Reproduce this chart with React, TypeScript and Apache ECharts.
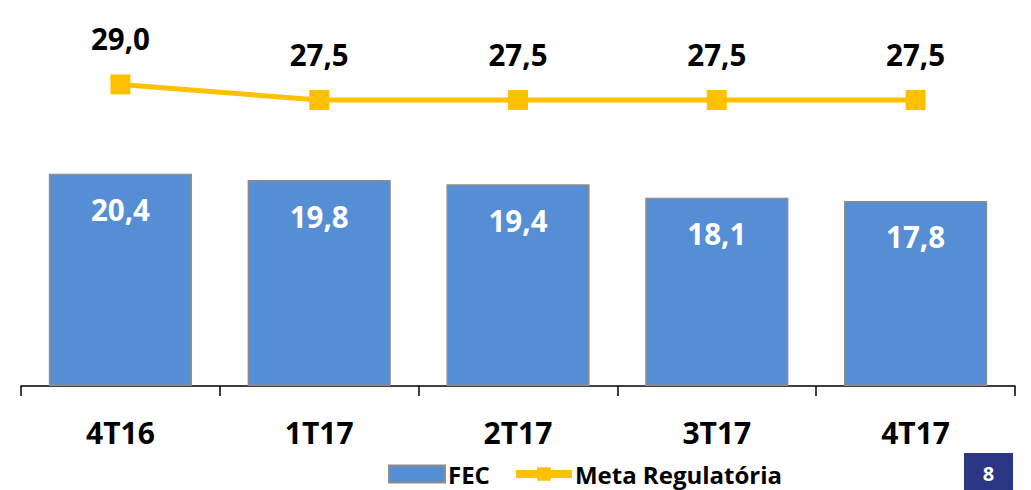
import React, { useEffect, useRef } from "react";
import * as echarts from "echarts";

const categories = ["4T16", "1T17", "2T17", "3T17", "4T17"];
const fecValues = [20.4, 19.8, 19.4, 18.1, 17.8];
const metaValues = [29.0, 27.5, 27.5, 27.5, 27.5];
const pageNumber = "8";

const FONT = "'Open Sans', 'Liberation Sans', sans-serif";
const fmt = (v: number) => v.toFixed(1).replace(".", ",");

export default function App() {
  const ref = useRef<HTMLDivElement>(null);
  useEffect(() => {
    if (!ref.current) return;
    const chart = echarts.init(ref.current, null, { renderer: "svg" });
    chart.setOption({
      animation: false,
      backgroundColor: "#ffffff",
      textStyle: { fontFamily: FONT },
      grid: { left: 21, right: 16, top: 22, bottom: 104, containLabel: false },
      xAxis: {
        type: "category",
        data: categories,
        axisLine: { lineStyle: { color: "#000", width: 1.5 } },
        axisTick: { show: true, length: 10, lineStyle: { color: "#000", width: 1.5 } },
        axisLabel: { color: "#000", fontSize: 30, fontWeight: "bold", margin: 31, fontFamily: FONT },
      },
      yAxis: { type: "value", min: 0, max: 35, show: false, splitLine: { show: false } },
      legend: {
        left: 388,
        top: 462,
        padding: 0,
        itemWidth: 56,
        itemHeight: 17,
        itemGap: 22,
        textStyle: {
          color: "#000",
          fontSize: 24,
          lineHeight: 24,
          fontWeight: "bold",
          fontFamily: FONT,
          padding: [0, 0, 0, -2],
        },
        data: [
          { name: "FEC", icon: "rect" },
          { name: "Meta Regulatória", lineStyle: { width: 8 } },
        ],
      },
      series: [
        {
          name: "FEC",
          type: "bar",
          data: fecValues,
          barCategoryGap: "28%",
          itemStyle: { color: "#558ED5", borderColor: "#8C8C8C", borderWidth: 1.5 },
          label: {
            show: true,
            position: "insideTop",
            distance: 21,
            color: "#fff",
            fontSize: 29.5,
            fontWeight: "bold",
            fontFamily: FONT,
            formatter: (p: any) => fmt(p.value),
          },
        },
        {
          name: "Meta Regulatória",
          type: "line",
          data: metaValues,
          symbol: "rect",
          symbolSize: 20,
          lineStyle: { color: "#FFC000", width: 5 },
          itemStyle: { color: "#FFC000" },
          label: {
            show: true,
            position: "top",
            distance: 21,
            color: "#000",
            fontSize: 29.5,
            fontWeight: "bold",
            fontFamily: FONT,
            formatter: (p: any) => fmt(p.value),
          },
        },
      ],
      graphic: [
        {
          type: "rect",
          shape: { x: 964, y: 453, width: 49, height: 37 },
          style: { fill: "#2B3784" },
        },
        {
          type: "text",
          x: 988.5,
          y: 473,
          style: {
            text: pageNumber,
            fill: "#fff",
            font: `bold 20px ${FONT}`,
            textAlign: "center",
            textVerticalAlign: "middle",
          },
        },
      ],
    });
    return () => chart.dispose();
  }, []);
  return (
    <div
      ref={ref}
      style={{ position: "fixed", left: 0, top: 0, width: 1031, height: 490 }}
    />
  );
}
